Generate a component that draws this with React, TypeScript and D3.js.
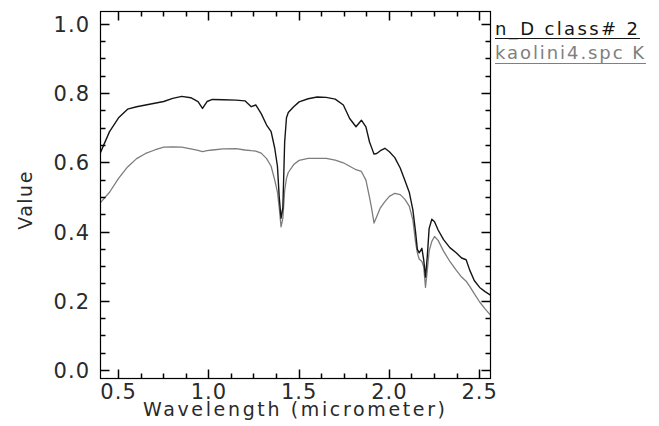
import * as d3 from "d3";

// wavelength grid (micrometer) shared by both spectra
const wavelengths = [
  0.4, 0.45, 0.5, 0.55, 0.6, 0.65, 0.7, 0.75, 0.8, 0.85, 0.9, 0.94, 0.965, 0.99,
  1.02, 1.08, 1.15, 1.2, 1.235, 1.26, 1.29, 1.32, 1.345, 1.365, 1.38, 1.39, 1.4,
  1.41, 1.42, 1.43, 1.44, 1.47, 1.5, 1.55, 1.6, 1.65, 1.7, 1.745, 1.78, 1.815,
  1.845, 1.87, 1.89, 1.9, 1.915, 1.93, 1.95, 1.975, 2.0, 2.03, 2.06, 2.085, 2.11,
  2.13, 2.145, 2.155, 2.165, 2.18, 2.19, 2.2, 2.21, 2.22, 2.235, 2.25, 2.27, 2.3,
  2.335, 2.37, 2.4, 2.425, 2.445, 2.47, 2.5, 2.53, 2.56,
];

// "n_D class# 2" (black)
const classValues = [
  0.63, 0.69, 0.73, 0.755, 0.762, 0.767, 0.772, 0.777, 0.786, 0.792, 0.788, 0.777,
  0.757, 0.777, 0.783, 0.782, 0.781, 0.779, 0.762, 0.767, 0.742, 0.709, 0.69,
  0.642, 0.59, 0.5, 0.44, 0.47, 0.66, 0.73, 0.745, 0.762, 0.776, 0.785, 0.79,
  0.789, 0.784, 0.767, 0.728, 0.704, 0.723, 0.704, 0.66, 0.646, 0.625, 0.627,
  0.635, 0.642, 0.632, 0.615, 0.585, 0.55, 0.515, 0.464, 0.4, 0.35, 0.34, 0.353,
  0.32, 0.27, 0.33, 0.41, 0.437, 0.43, 0.406, 0.378, 0.355, 0.34, 0.325, 0.32,
  0.29, 0.26, 0.24, 0.228, 0.218,
];

// "kaolini4.spc K" (gray)
const kaoliniteValues = [
  0.485, 0.515, 0.555, 0.588, 0.612, 0.627, 0.637, 0.645, 0.646, 0.645, 0.64,
  0.636, 0.632, 0.635, 0.637, 0.64, 0.641, 0.637, 0.635, 0.634, 0.628, 0.612,
  0.59, 0.55, 0.515, 0.47, 0.415, 0.44, 0.52, 0.555, 0.572, 0.595, 0.607, 0.613,
  0.613, 0.613, 0.608, 0.6, 0.59, 0.58, 0.575, 0.55, 0.5, 0.473, 0.426, 0.445,
  0.47, 0.488, 0.503, 0.512, 0.508, 0.495, 0.475, 0.435, 0.37, 0.34, 0.322, 0.315,
  0.3, 0.24, 0.29, 0.345, 0.373, 0.387, 0.376, 0.345, 0.315, 0.29, 0.27, 0.258,
  0.243, 0.222, 0.198, 0.178, 0.16,
];

const xMajor = [0.5, 1.0, 1.5, 2.0, 2.5];
const yMajor = [0.0, 0.2, 0.4, 0.6, 0.8, 1.0];
const legendLabels = ["n_D class# 2", "kaolini4.spc K"];

const W = 659;
const H = 426;
const FONT = "'DejaVu Sans', sans-serif";
const LABEL = "#2a2a2a";

const left = 100.5;
const right = 490.5;
const top = 11.5;
const bottom = 378.5;

const x = d3.scaleLinear().domain([0.4, 2.56]).range([left, right]);
const y = d3.scaleLinear().domain([-0.023, 1.037]).range([bottom, top]);

const xMinor = d3.range(0.5, 2.5001, 0.125);
const yMinor = d3.range(0, 1.0001, 0.05);
const fmt = d3.format(".1f");
const isMajor = (arr: number[], d: number) => arr.some((m) => Math.abs(m - d) < 1e-6);
const snap = (v: number) => Math.round(v - 0.5) + 0.5;

const line = d3
  .line<number>()
  .x((_, i) => x(wavelengths[i]))
  .y((d) => y(d));

export default function App() {
  const legendColors = ["#151515", "#808080"];
  const legendBase = [35, 58.5];
  const legendUnder = [38.5, 63.5];
  const legendWidth = [143, 149];

  return (
    <div style={{ position: "absolute", top: 0, left: 0, width: W, height: H }}>
      <svg width={W} height={H} style={{ display: "block", background: "#fff" }}>
        <defs>
          <clipPath id="plot-clip">
            <rect x={left} y={top} width={right - left} height={bottom - top} />
          </clipPath>
        </defs>

        <g clipPath="url(#plot-clip)" fill="none" strokeLinejoin="round">
          <path d={line(kaoliniteValues) ?? ""} stroke="#7d7d7d" strokeWidth={1.3} />
          <path d={line(classValues) ?? ""} stroke="#151515" strokeWidth={1.4} />
        </g>

        {/* frame */}
        <rect
          x={left}
          y={top}
          width={right - left}
          height={bottom - top}
          fill="none"
          stroke="#000"
          strokeWidth={1.2}
        />

        {/* ticks on all four sides, pointing inward */}
        <g stroke="#000" strokeWidth={1.5}>
          {xMinor.map((d) => {
            const len = isMajor(xMajor, d) ? 9 : 5;
            const xx = snap(x(d));
            return (
              <g key={`x${d}`}>
                <line x1={xx} x2={xx} y1={bottom} y2={bottom - len} />
                <line x1={xx} x2={xx} y1={top} y2={top + len} />
              </g>
            );
          })}
          {yMinor.map((d) => {
            const len = isMajor(yMajor, d) ? 9 : 5;
            const yy = snap(y(d));
            return (
              <g key={`y${d}`}>
                <line x1={left} x2={left + len} y1={yy} y2={yy} />
                <line x1={right} x2={right - len} y1={yy} y2={yy} />
              </g>
            );
          })}
        </g>

        {/* tick labels */}
        <g fill={LABEL} fontFamily={FONT} fontSize={21} style={{ letterSpacing: "1px" }}>
          {xMajor.map((d) => (
            <text key={`xl${d}`} x={x(d)} y={399} textAnchor="middle">
              {fmt(d)}
            </text>
          ))}
          {yMajor.map((d) => (
            <text key={`yl${d}`} x={90} y={y(d)} dy="0.36em" textAnchor="end">
              {fmt(d)}
            </text>
          ))}
        </g>

        {/* axis titles */}
        <text
          x={143}
          y={416}
          textLength={302}
          lengthAdjust="spacing"
          fill={LABEL}
          fontFamily={FONT}
          fontSize={19}
        >
          Wavelength (micrometer)
        </text>
        <text
          transform="translate(32,200) rotate(-90)"
          textAnchor="middle"
          fill={LABEL}
          fontFamily={FONT}
          fontSize={19}
          style={{ letterSpacing: "1.5px" }}
        >
          Value
        </text>

        {/* legend */}
        {legendLabels.map((label, i) => (
          <g key={label}>
            <text
              x={495}
              y={legendBase[i]}
              textLength={legendWidth[i]}
              lengthAdjust="spacing"
              fill={legendColors[i]}
              fontFamily={FONT}
              fontSize={18}
            >
              {label}
            </text>
            <line
              x1={495}
              x2={495 + legendWidth[i] + 2}
              y1={legendUnder[i]}
              y2={legendUnder[i]}
              stroke={legendColors[i]}
              strokeWidth={1.2}
            />
          </g>
        ))}
      </svg>
    </div>
  );
}
